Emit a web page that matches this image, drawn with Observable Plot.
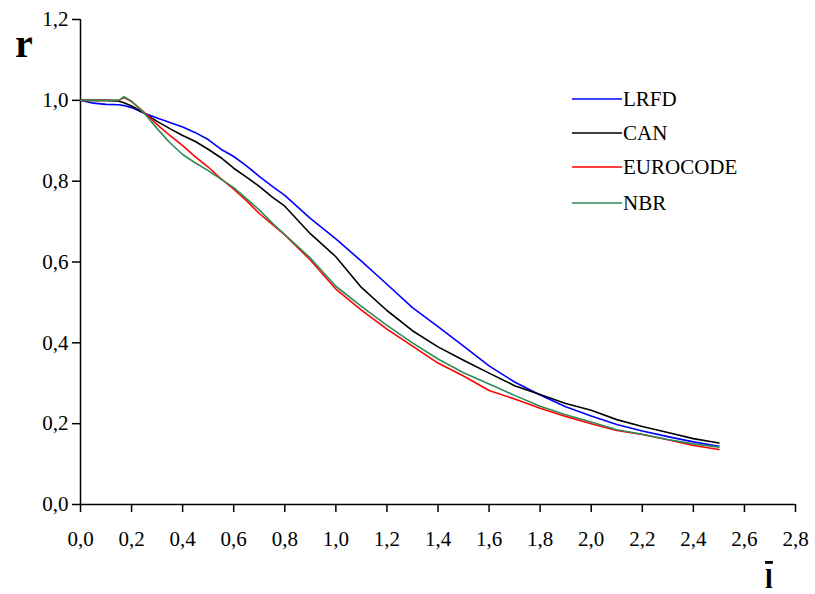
<!DOCTYPE html>
<html><head><meta charset="utf-8">
<script src="https://cdn.jsdelivr.net/npm/d3@7"></script>
<script src="https://cdn.jsdelivr.net/npm/@observablehq/plot@0.6"></script>
<style>body{margin:0;background:#fff} svg{display:block}</style>
</head><body><div id="chart"></div>
<script>
const xValues = [0, 0.05, 0.1, 0.15, 0.17, 0.2, 0.25, 0.3, 0.35, 0.4, 0.45, 0.5, 0.55, 0.6, 0.65, 0.7, 0.75, 0.8, 0.9, 1.0, 1.1, 1.2, 1.3, 1.4, 1.5, 1.6, 1.7, 1.8, 1.9, 2.0, 2.1, 2.2, 2.3, 2.4, 2.5];
const lrfd = [1.0, 0.993, 0.99, 0.989, 0.987, 0.982, 0.968, 0.956, 0.945, 0.934, 0.92, 0.903, 0.879, 0.861, 0.838, 0.812, 0.788, 0.765, 0.708, 0.657, 0.602, 0.545, 0.487, 0.44, 0.392, 0.343, 0.303, 0.271, 0.242, 0.219, 0.198, 0.182, 0.168, 0.155, 0.144];
const can = [1.0, 1.0, 1.0, 0.998, 0.994, 0.986, 0.968, 0.948, 0.93, 0.913, 0.898, 0.879, 0.858, 0.832, 0.81, 0.787, 0.761, 0.738, 0.67, 0.613, 0.537, 0.48, 0.43, 0.39, 0.357, 0.325, 0.294, 0.272, 0.25, 0.233, 0.21, 0.193, 0.178, 0.163, 0.152];
const eurocode = [1.0, 1.0, 1.0, 1.0, 1.007, 0.997, 0.97, 0.94, 0.913, 0.888, 0.86, 0.835, 0.806, 0.78, 0.752, 0.72, 0.694, 0.667, 0.605, 0.533, 0.481, 0.434, 0.392, 0.35, 0.318, 0.282, 0.261, 0.238, 0.218, 0.2, 0.183, 0.173, 0.16, 0.146, 0.136];
const nbr = [1.0, 1.0, 1.0, 1.0, 1.009, 0.998, 0.968, 0.93, 0.895, 0.866, 0.845, 0.826, 0.805, 0.784, 0.757, 0.729, 0.697, 0.668, 0.61, 0.54, 0.49, 0.443, 0.4, 0.36, 0.326, 0.298, 0.27, 0.243, 0.222, 0.204, 0.185, 0.174, 0.161, 0.15, 0.142];
const seriesNames = ["LRFD", "CAN", "EUROCODE", "NBR"];
const seriesColors = ["#0000ff", "#000000", "#ff0000", "#2e8b57"];
const xTicks = [0, 0.2, 0.4, 0.6, 0.8, 1.0, 1.2, 1.4, 1.6, 1.8, 2.0, 2.2, 2.4, 2.6, 2.8];
const yTicks = [0, 0.2, 0.4, 0.6, 0.8, 1.0, 1.2];

const seriesValues = [lrfd, can, eurocode, nbr];
const data = seriesNames.flatMap((name, i) => xValues.map((x, j) => ({x, y: seriesValues[i][j], name})));
const fmt = d => d.toFixed(1).replace(".", ",");
const serif = "'Liberation Serif', 'Times New Roman', serif";

const plot = Plot.plot({
  width: 815, height: 594,
  marginLeft: 80, marginRight: 20, marginTop: 19, marginBottom: 90,
  style: {fontFamily: serif, fontSize: "21px", background: "#fff", overflow: "visible"},
  x: {domain: [0, 2.8]},
  y: {domain: [0, 1.2]},
  color: {domain: seriesNames, range: seriesColors},
  marks: [
    Plot.axisX({ticks: xTicks, tickFormat: fmt, tickSize: 8, tickPadding: 19, strokeWidth: 1.5, label: null, fill: "#000", stroke: "#000"}),
    Plot.axisY({ticks: yTicks, tickFormat: fmt, tickSize: 8, tickPadding: 4, strokeWidth: 1.5, label: null, fill: "#000", stroke: "#000"}),
    Plot.ruleX([0], {stroke: "#000", strokeWidth: 1.5}),
    Plot.ruleY([0], {stroke: "#000", strokeWidth: 1.5}),
    Plot.line(data, {x: "x", y: "y", z: "name", stroke: "name", strokeWidth: 1.6})
  ]
});
document.getElementById("chart").appendChild(plot);

const svg = d3.select(plot);
svg.attr("font-family", serif).attr("font-size", 21);
svg.selectAll("text").style("font-family", serif).style("font-size", "21px");
svg.selectAll("g").filter(function() { return this.getAttribute("font-size") !== null || this.getAttribute("font-family") !== null; })
  .attr("font-size", 21).attr("font-family", serif);
// axis titles
svg.append("text").attr("x", 15).attr("y", 57).attr("font-weight", "bold")
  .attr("text-anchor", "start").style("font-family", serif).style("font-size", "40px").attr("fill", "#000").text("r");
svg.append("text").attr("x", 769).attr("y", 588).attr("font-weight", "bold")
  .attr("text-anchor", "middle").style("font-family", serif).style("font-size", "28px").attr("fill", "#000")
  .style("text-decoration", "overline").text("l");
// legend
const legendY = [99, 133, 167, 203];
const lg = svg.append("g");
seriesNames.forEach((name, i) => {
  lg.append("line").attr("x1", 572).attr("x2", 622).attr("y1", legendY[i]).attr("y2", legendY[i])
    .attr("stroke", seriesColors[i]).attr("stroke-width", 1.6);
  lg.append("text").attr("x", 623).attr("y", legendY[i]).attr("dy", "0.35em").attr("text-anchor", "start")
    .style("font-size", "21px").style("font-family", serif).attr("fill", "#000").text(name);
});
</script>
</body></html>
